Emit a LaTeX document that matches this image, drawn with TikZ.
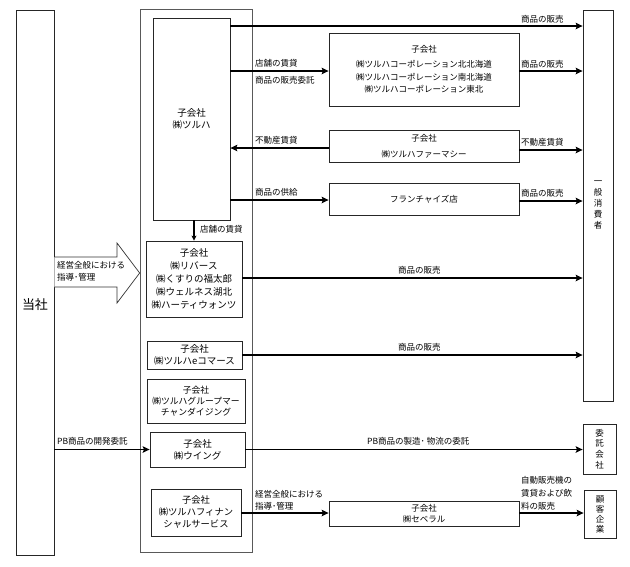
\documentclass[tikz,border=0pt]{standalone}
\usepackage{fontspec}
\setmainfont{Noto Sans CJK JP}
\usetikzlibrary{arrows.meta}
\begin{document}
\begin{tikzpicture}[x=1pt,y=-1pt,
  box/.style={draw=black!85, line width=0.8pt, inner sep=0pt, align=center, font=\fontsize{8.5}{12.5}\selectfont},
  grp/.style={draw=black!65, line width=0.7pt, inner sep=0pt},
  conn/.style={line width=1.8pt, -{Stealth[length=7pt,width=6.5pt,inset=1.5pt]}},
  lbl/.style={inner sep=0pt, font=\fontsize{8.5}{12.5}\selectfont, anchor=west, align=left},
]
\useasboundingbox (0,0) rectangle (630,566);

% left and outer boxes
\node[grp, draw=black!85, minimum width=38pt, minimum height=545pt] (tosha) at (35,282.5) {};
\node[inner sep=0pt, font=\fontsize{13}{15}\selectfont] (toshalbl) at (35,305) {当社};
\node[grp, minimum width=112pt, minimum height=543pt] (group) at (196,280.5) {};

% subsidiaries in the group
\node[box, minimum width=77pt, minimum height=202pt, font=\fontsize{9.5}{12}\selectfont] (tsuruha) at (191.5,119) {子会社\\㈱ツルハ};
\node[box, minimum width=96pt, minimum height=76pt, font=\fontsize{9.5}{13}\selectfont] (rebirth) at (194,279) {子会社\\㈱リバース\\㈱くすりの福太郎\\㈱ウェルネス湖北\\㈱ハーティウォンツ};
\node[box, minimum width=95pt, minimum height=28pt, font=\fontsize{9.5}{12}\selectfont] (ecom) at (194.5,355) {子会社\\㈱ツルハeコマース};
\node[box, minimum width=98pt, minimum height=44pt, font=\fontsize{8.8}{11}\selectfont] (gmd) at (196,401) {子会社\\㈱ツルハグループマー\\チャンダイジング};
\node[box, minimum width=95pt, minimum height=35pt, font=\fontsize{9.5}{12}\selectfont] (wing) at (197.5,449.5) {子会社\\㈱ウイング};
\node[box, minimum width=90pt, minimum height=47pt, font=\fontsize{9.3}{12}\selectfont] (fin) at (196,512.5) {子会社\\㈱ツルハフィナン\\シャルサービス};

% middle boxes
\node[box, minimum width=190pt, minimum height=73pt] (corp) at (424,69.5) {子会社\\[2.5pt]㈱ツルハコーポレーション北北海道\\㈱ツルハコーポレーション南北海道\\㈱ツルハコーポレーション東北};
\node[box, minimum width=190pt, minimum height=32pt] (pharm) at (424,146) {子会社\\[3.5pt]㈱ツルハファーマシー};
\node[box, minimum width=190pt, minimum height=32pt] (fc) at (424,199) {フランチャイズ店};
\node[box, minimum width=190pt, minimum height=25pt, font=\fontsize{8.5}{11}\selectfont] (sebe) at (424,513.5) {子会社\\㈱セベラル};

% right boxes
\node[box, minimum width=30pt, minimum height=391pt, font=\fontsize{8.5}{11}\selectfont] (shohisha) at (598,205.5) {一\\般\\消\\費\\者};
\node[box, minimum width=33pt, minimum height=50pt, font=\fontsize{8.5}{10.7}\selectfont] (itaku) at (599.5,449) {委\\託\\会\\社};
\node[box, minimum width=32pt, minimum height=48pt, font=\fontsize{8.5}{10}\selectfont] (kokyaku) at (600,514) {顧\\客\\企\\業};

% big hollow arrow
\draw[draw=black!80, line width=0.7pt, fill=white]
  (tosha.east |- 0,257) -- (117,257) -- (117,243) -- (group.west |- 0,273)
  -- (117,303) -- (117,287) -- (tosha.east |- 0,287);
\node[lbl] (l1) at (57,265) {経営全般における};
\node[lbl] (l2) at (57,277) {指導･管理};

% connectors
\draw[conn] (tsuruha.east |- 0,26) -- (shohisha.west |- 0,26);
\node[lbl] (l3) at (521,19) {商品の販売};

\draw[conn] (tsuruha.east |- 0,71) -- (corp.west |- 0,71);
\node[lbl] (l4) at (255,63) {店舗の賃貸};
\node[lbl] (l5) at (255,80) {商品の販売委託};
\draw[conn] (corp.east |- 0,71) -- (shohisha.west |- 0,71);
\node[lbl] (l6) at (521,64) {商品の販売};

\draw[conn] (pharm.west |- 0,148) -- (tsuruha.east |- 0,148);
\node[lbl] (l7) at (255,140) {不動産賃貸};
\draw[conn] (pharm.east |- 0,150) -- (shohisha.west |- 0,150);
\node[lbl] (l8) at (521,142) {不動産賃貸};

\draw[conn] (tsuruha.east |- 0,200) -- (fc.west |- 0,200);
\node[lbl] (l9) at (255,192) {商品の供給};
\draw[conn] (fc.east |- 0,201) -- (shohisha.west |- 0,201);
\node[lbl] (l10) at (521,193) {商品の販売};

\draw[line width=1.2pt, -{Stealth[length=5pt,width=5pt,inset=1pt]}] (rebirth.north |- tsuruha.south) -- (rebirth.north);
\node[lbl] (l11) at (200,229) {店舗の賃貸};

\draw[conn] (rebirth.east |- 0,278) -- (shohisha.west |- 0,278);
\node[lbl] (l12) at (398,270) {商品の販売};
\draw[conn] (ecom.east) -- (shohisha.west |- ecom.east);
\node[lbl] (l13) at (398,347) {商品の販売};

\draw[conn] (tosha.east |- wing.west) -- (wing.west);
\node[lbl] (l14) at (57,441) {PB商品の開発委託};
\draw[conn] (wing.east) -- (itaku.west |- wing.east);
\node[lbl] (l15) at (367,441) {PB商品の製造･ 物流の委託};

\draw[conn] (fin.east |- 0,513) -- (sebe.west |- 0,513);
\node[lbl] (l16) at (255,494) {経営全般における};
\node[lbl] (l17) at (255,506) {指導･管理};
\draw[conn] (sebe.east |- 0,513) -- (kokyaku.west |- 0,513);
\node[lbl] (l18) at (521,480) {自動販売機の};
\node[lbl] (l19) at (521,493) {賃貸および飲};
\node[lbl] (l20) at (521,506) {料の販売};
\end{tikzpicture}
\end{document}
